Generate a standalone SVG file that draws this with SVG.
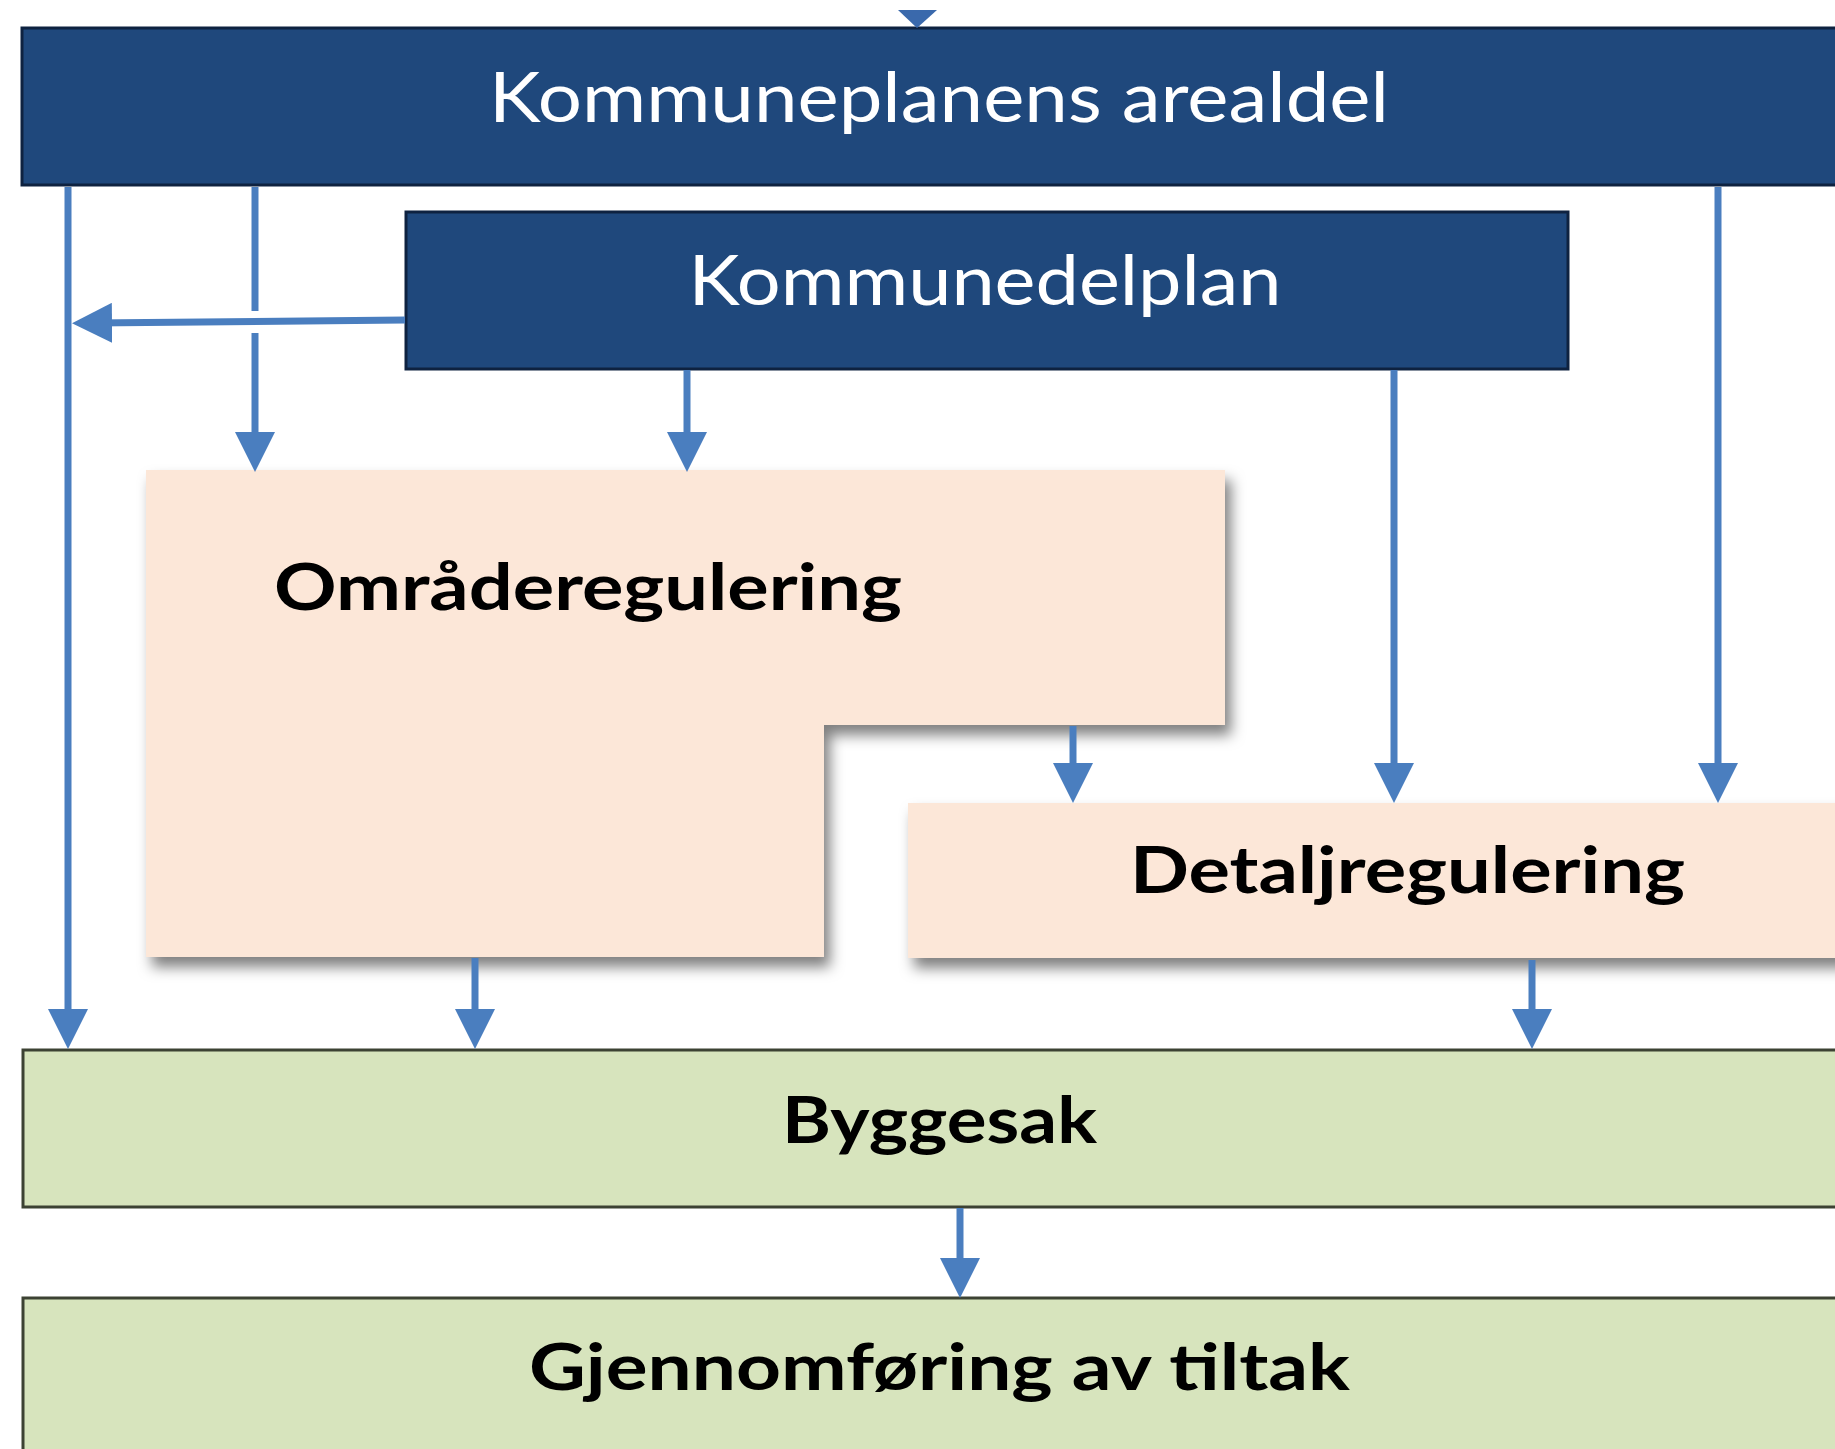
<svg xmlns="http://www.w3.org/2000/svg" width="1835" height="1449" viewBox="0 0 1835 1449">
<style>
.navy{fill:#1F487C;stroke:#0E2240;stroke-width:3}
.peach{fill:#FCE7D8;filter:url(#sh)}
.green{fill:#D7E4BD;stroke:#3C4233;stroke-width:3}
.wt{font-family:Lato,"Open Sans","Liberation Sans",sans-serif;fill:#FFFFFF;font-size:69px;text-anchor:middle}
.bt{font-family:Lato,"Open Sans","Liberation Sans",sans-serif;font-weight:bold;fill:#000000;font-size:65px}
.ln{fill:none;stroke:#4A7EBF;stroke-width:7}
</style>
<defs>
<marker id="ah" viewBox="0 0 40 40" refX="20" refY="20" markerWidth="40" markerHeight="40" markerUnits="userSpaceOnUse" orient="auto">
<path d="M0,0 L40,20 L0,40 z" fill="#4A7EBF"/>
</marker>
<filter id="sh" x="-10%" y="-10%" width="130%" height="130%">
<feDropShadow dx="6" dy="10" stdDeviation="7" flood-color="#000" flood-opacity="0.5"/>
</filter>
</defs>
<rect width="1835" height="1449" fill="#FFFFFF"/>
<g id="kommuneplanens-arealdel">
<rect class="navy" x="22" y="28" width="1830" height="157"/>
<text class="wt" x="939" y="122" textLength="900" lengthAdjust="spacingAndGlyphs">Kommuneplanens arealdel</text>
</g>
<g id="kommunedelplan">
<rect class="navy" x="406" y="212" width="1162" height="157"/>
<text class="wt" x="985" y="305" textLength="593" lengthAdjust="spacingAndGlyphs">Kommunedelplan</text>
</g>
<g id="omraderegulering">
<path class="peach" d="M146,470 L1225,470 L1225,725 L824,725 L824,957 L146,957 Z"/>
<text class="bt" x="274" y="610" textLength="628" lengthAdjust="spacingAndGlyphs">Områderegulering</text>
</g>
<g id="detaljregulering">
<rect class="peach" x="908" y="803" width="960" height="155"/>
<text class="bt" x="1130" y="893" textLength="555" lengthAdjust="spacingAndGlyphs">Detaljregulering</text>
</g>
<g id="byggesak">
<rect class="green" x="23" y="1050" width="1830" height="157"/>
<text class="bt" x="782" y="1143" textLength="315" lengthAdjust="spacingAndGlyphs">Byggesak</text>
</g>
<g id="gjennomforing">
<rect class="green" x="23" y="1298" width="1830" height="170"/>
<text class="bt" x="529" y="1390" textLength="821" lengthAdjust="spacingAndGlyphs">Gjennomføring av tiltak</text>
</g>
<g id="connectors">
<polygon points="898,10 937,10 917,28" fill="#3A69AC"/>
<path class="ln" d="M68,187 L68,1029" marker-end="url(#ah)"/>
<path class="ln" d="M255,187 L255,311"/>
<path class="ln" d="M255,333 L255,452" marker-end="url(#ah)"/>
<path class="ln" d="M405,320 L92,323" marker-end="url(#ah)"/>
<path class="ln" d="M687,370 L687,452" marker-end="url(#ah)"/>
<path class="ln" d="M1394,370 L1394,783" marker-end="url(#ah)"/>
<path class="ln" d="M1718,187 L1718,783" marker-end="url(#ah)"/>
<path class="ln" d="M1073,726 L1073,783" marker-end="url(#ah)"/>
<path class="ln" d="M475,958 L475,1029" marker-end="url(#ah)"/>
<path class="ln" d="M1532,960 L1532,1029" marker-end="url(#ah)"/>
<path class="ln" d="M960,1208 L960,1278" marker-end="url(#ah)"/>
</g>
</svg>
